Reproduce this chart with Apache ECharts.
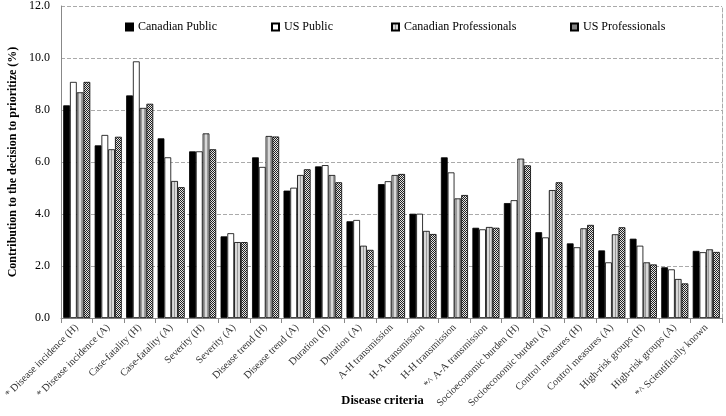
<!DOCTYPE html>
<html><head><meta charset="utf-8">
<script src="https://cdn.jsdelivr.net/npm/echarts@6/dist/echarts.min.js"></script>
<style>html,body{margin:0;padding:0;background:#fff}#c{width:726px;height:416px}</style>
</head><body><div id="c"></div>
<script>
const categories = ["* Disease incidence (H)","* Disease incidence (A)","Case-fatality (H)","Case-fatality (A)","Severity (H)","Severity (A)","Disease trend (H)","Disease trend (A)","Duration (H)","Duration (A)","A-H transmission","H-A transmission","H-H transmission","*^ A-A transmission","Socioeconomic burden (H)","Socioeconomic burden (A)","Control measures (H)","Control measures (A)","High-risk groups (H)","High-risk groups (A)","*^ Scientifically known"];
const canadianPublic = [8.18,6.64,8.56,6.91,6.41,3.14,6.18,4.90,5.83,3.72,5.15,4.01,6.18,3.47,4.42,3.30,2.87,2.60,3.05,1.95,2.58];
const usPublic = [9.08,7.04,9.87,6.18,6.41,3.26,5.81,5.01,5.88,3.77,5.26,4.01,5.60,3.41,4.53,3.10,2.72,2.14,2.78,1.87,2.53];
const canadianProfessionals = [8.68,6.49,8.08,5.27,7.10,2.92,7.00,5.50,5.50,2.78,5.50,3.35,4.60,3.50,6.13,4.92,3.45,3.22,2.14,1.50,2.64];
const usProfessionals = [9.08,6.97,8.24,5.03,6.49,2.92,6.98,5.72,5.22,2.62,5.54,3.23,4.73,3.47,5.87,5.22,3.58,3.49,2.06,1.33,2.54];
const seriesNames = ['Canadian Public','US Public','Canadian Professionals','US Professionals'];
const yTicks = [0,2,4,6,8,10,12];

function stripe(){
  const c=document.createElement('canvas');c.width=3;c.height=3;const g=c.getContext('2d');
  g.fillStyle='#d8d8d8';g.fillRect(0,0,3,3);g.fillStyle='#9a9a9a';g.fillRect(0,0,1,3);
  return c;
}
function checker(){
  const c=document.createElement('canvas');c.width=2;c.height=2;const g=c.getContext('2d');
  g.fillStyle='#e6e6e6';g.fillRect(0,0,2,2);g.fillStyle='#222';g.fillRect(0,0,1,1);g.fillRect(1,1,1,1);
  return c;
}
const serif='"Liberation Serif","Times New Roman",serif';
const chart=echarts.init(document.getElementById('c'),null,{renderer:'canvas'});
const mk=(name,data,color)=>({name,type:'bar',data,barGap:'0%',barCategoryGap:'14%',
  itemStyle:{color,borderColor:'#000',borderWidth:0.8},emphasis:{disabled:true}});
const legendLefts=[126,272,392,571];
chart.setOption({
  animation:false,
  legend:seriesNames.map((n,i)=>({top:21,left:legendLefts[i]-1,padding:0,itemWidth:7,itemHeight:7,icon:'rect',
    textStyle:{fontFamily:serif,fontSize:12,color:'#000'},data:[n]})),
  grid:{left:61,right:4,top:6,bottom:98,containLabel:false,outerBoundsMode:'none'},
  xAxis:{type:'category',data:categories,
    name:'Disease criteria',nameLocation:'middle',nameGap:76,nameMoveOverlap:false,
    nameTextStyle:{fontFamily:serif,fontSize:12.5,fontWeight:'bold',color:'#000',padding:[0,18,0,0]},
    axisLine:{lineStyle:{color:'#888'}},
    axisTick:{show:true,length:5,lineStyle:{color:'#888'}},
    axisLabel:{rotate:45,interval:0,fontFamily:serif,fontSize:10.3,color:'#333',margin:8}},
  yAxis:[{type:'value',min:yTicks[0],max:yTicks[yTicks.length-1],interval:2,
    name:'Contribution to the decision to prioritize (%)',nameLocation:'middle',nameGap:42,nameMoveOverlap:false,
    nameTextStyle:{fontFamily:serif,fontSize:12,fontWeight:'bold',color:'#000'},
    axisLine:{show:true,lineStyle:{color:'#888'}},axisTick:{show:false},
    axisLabel:{formatter:v=>v.toFixed(1),fontFamily:serif,fontSize:12,color:'#000',margin:11},
    splitLine:{lineStyle:{color:'#aaa',type:'dashed'}}},
   {type:'value',min:0,max:12,interval:2,position:'right',axisLabel:{show:false},axisTick:{show:false},
    splitLine:{show:false},axisLine:{show:true,lineStyle:{color:'#aaa',type:'dashed'}}}],
  series:[mk(seriesNames[0],canadianPublic,'#000'),mk(seriesNames[1],usPublic,'#fff'),
    mk(seriesNames[2],canadianProfessionals,{image:stripe(),repeat:'repeat'}),
    mk(seriesNames[3],usProfessionals,{image:checker(),repeat:'repeat'})]
});
</script></body></html>
